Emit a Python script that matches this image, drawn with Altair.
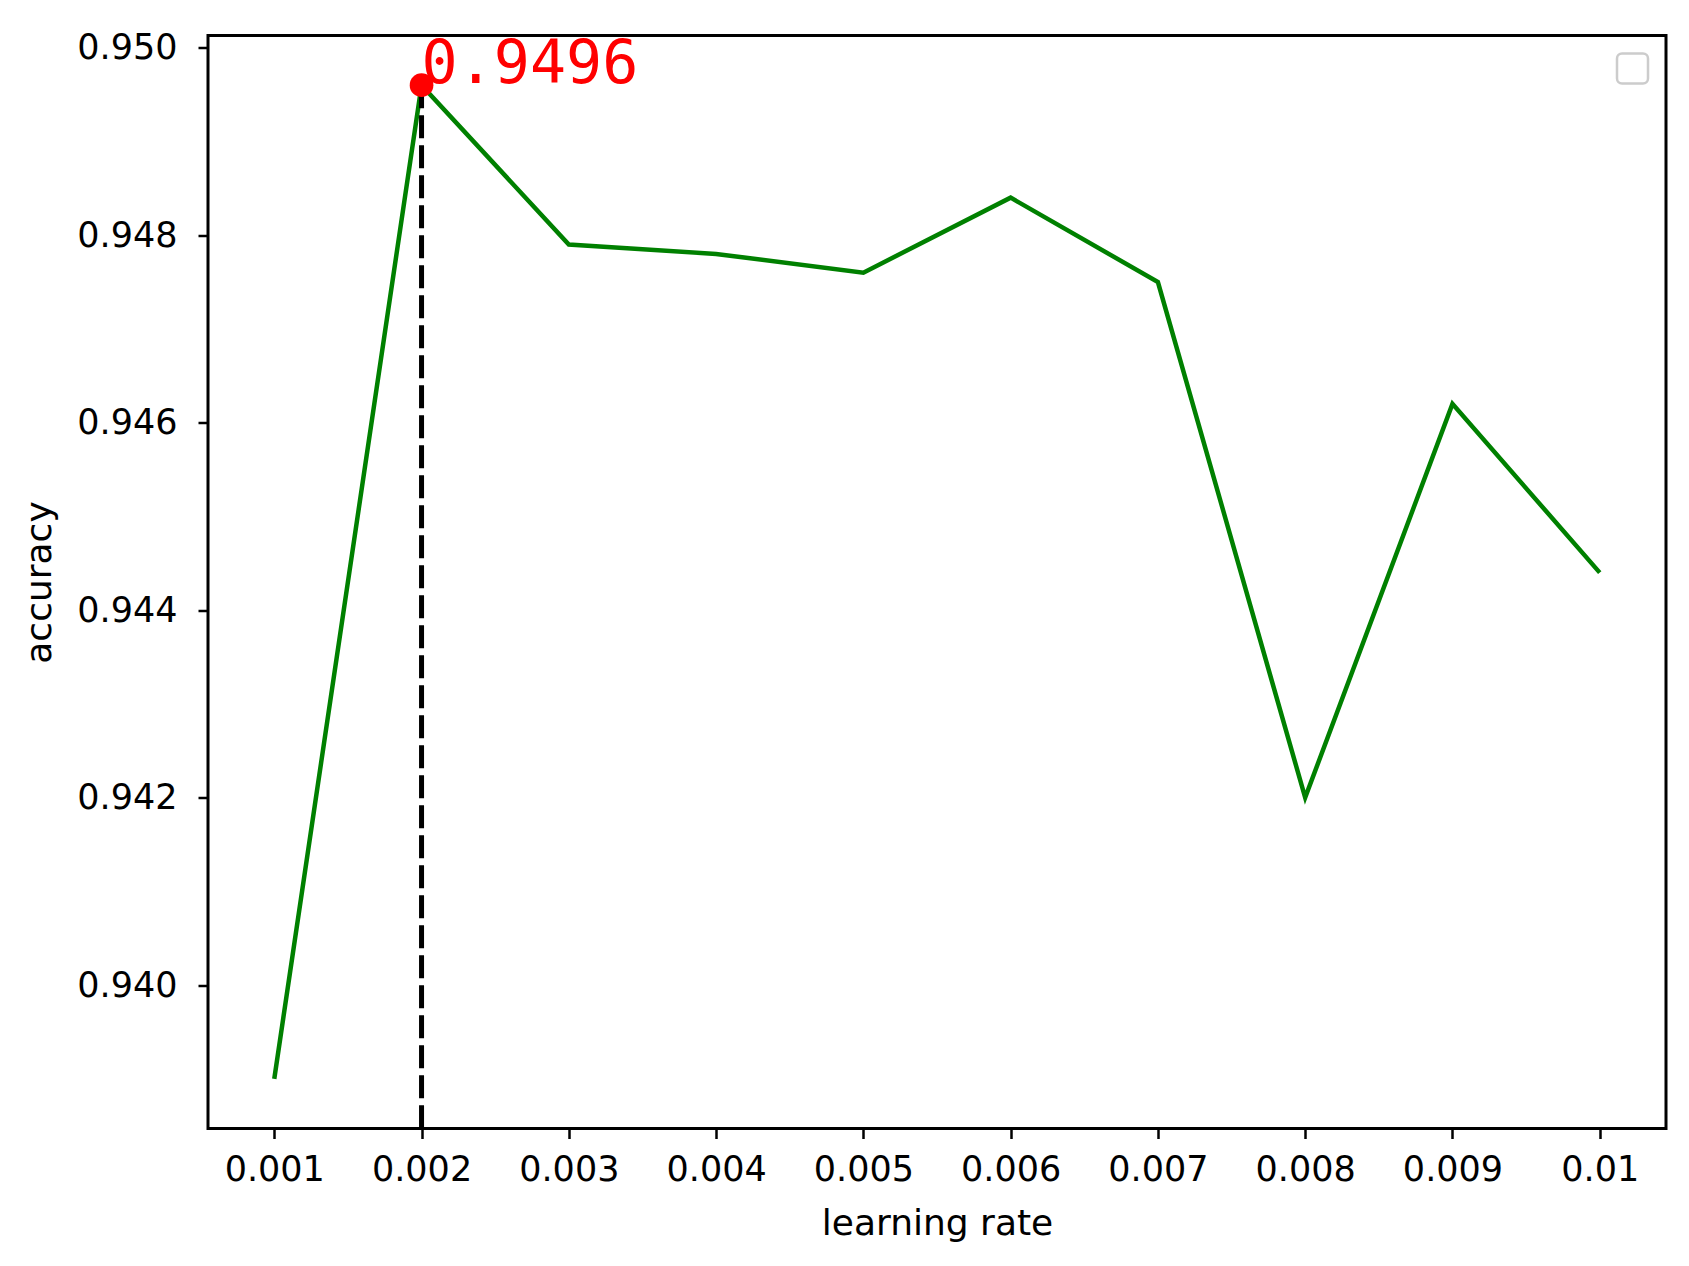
import altair as alt
import pandas as pd

learning_rate = [0.001, 0.002, 0.003, 0.004, 0.005, 0.006, 0.007, 0.008, 0.009, 0.01]
accuracy = [0.9390, 0.9496, 0.9479, 0.9478, 0.9476, 0.9484, 0.9475, 0.9420, 0.9462, 0.9444]
x_ticks = [0.001, 0.002, 0.003, 0.004, 0.005, 0.006, 0.007, 0.008, 0.009, 0.01]
y_ticks = [0.940, 0.942, 0.944, 0.946, 0.948, 0.950]
x_domain = [0.00055, 0.01045]
y_domain = [0.93847, 0.95013]
peak_x = [0.002]
peak_y = [0.9496]
peak_label = ["0.9496"]

W, H = 1458, 1093

df = pd.DataFrame({"lr": learning_rate, "acc": accuracy})
peak = pd.DataFrame({"lr": peak_x, "acc": peak_y, "label": peak_label, "ymin": [y_domain[0]]})

xs = alt.Scale(domain=x_domain, nice=False, zero=False)
ys = alt.Scale(domain=y_domain, nice=False, zero=False)

x_axis = alt.Axis(values=x_ticks, format="~f", title="learning rate", grid=False,
                  labelFont="DejaVu Sans", titleFont="DejaVu Sans", labelFontSize=35,
                  titleFontSize=36, titleFontWeight="normal", labelColor="black",
                  titleColor="black", tickColor="black", tickSize=10, tickWidth=2.5,
                  domain=False, labelPadding=14, titlePadding=19, labelFlush=False)
y_axis = alt.Axis(values=y_ticks, format=".3f", title="accuracy", grid=False,
                  labelFont="DejaVu Sans", titleFont="DejaVu Sans", labelFontSize=35,
                  titleFontSize=36, titleFontWeight="normal", labelColor="black",
                  titleColor="black", tickColor="black", tickSize=10, tickWidth=2.5,
                  domain=False, labelPadding=21, titlePadding=18, labelFlush=False)

line = alt.Chart(df).mark_line(color="#008000", strokeWidth=4.5).encode(
    x=alt.X("lr:Q", scale=xs, axis=x_axis),
    y=alt.Y("acc:Q", scale=ys, axis=y_axis),
)

vline = alt.Chart(peak).mark_rule(color="black", strokeWidth=5, strokeDash=[23, 7]).encode(
    x=alt.X("lr:Q", scale=xs),
    y=alt.Y("acc:Q", scale=ys),
    y2="ymin:Q",
)

dot = alt.Chart(peak).mark_circle(color="red", opacity=1, size=560).encode(
    x=alt.X("lr:Q", scale=xs),
    y=alt.Y("acc:Q", scale=ys),
)

label = alt.Chart(peak).mark_text(color="red", font="DejaVu Sans Mono", fontSize=60,
                                  align="left", baseline="alphabetic", dx=0, dy=-2).encode(
    x=alt.X("lr:Q", scale=xs),
    y=alt.Y("acc:Q", scale=ys),
    text="label:N",
)

legend_box = alt.Chart(pd.DataFrame({"k": [0]})).mark_rect(
    fill="white", stroke="#cccccc", strokeWidth=2.5, cornerRadius=5
).encode(
    x=alt.value(W - 49), x2=alt.value(W - 18), y=alt.value(18), y2=alt.value(48)
)

chart = alt.layer(line, vline, dot, label, legend_box).properties(
    width=W, height=H,
    background="white",
    autosize=alt.AutoSizeParams(type="none"),
    padding={"left": 200, "top": 27.5, "right": 15, "bottom": 129},
).configure_view(stroke="black", strokeWidth=3, fill="white")

chart.save("out.html", embed_options={"renderer": "svg", "actions": False})
